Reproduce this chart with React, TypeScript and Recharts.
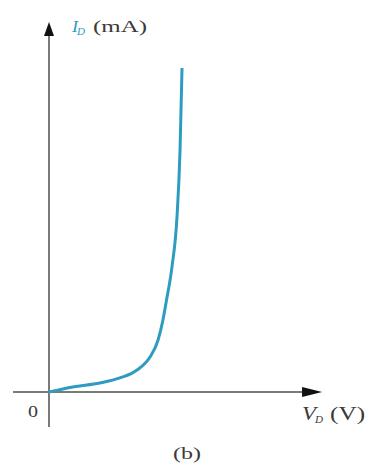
import React from 'react';
import { LineChart, Line, XAxis, YAxis, ReferenceLine, ReferenceDot } from 'recharts';

// diode forward characteristic, V_D in volts, I_D in mA
const voltage = [0, 0.133, 0.283, 0.394, 0.489, 0.561, 0.606, 0.633, 0.653, 0.683, 0.711, 0.728, 0.739];
const current = [0, 0.28, 0.5, 0.78, 1.22, 1.94, 2.89, 4.0, 5.11, 6.94, 9.72, 13.44, 18];

// axis extents (start, arrow tip)
const xAxisRange = [-0.2, 1.517];
const yAxisRange = [-1.95, 20.55];

const data = voltage.map((v, i) => ({ v, i: current[i] }));

const serif = '"Liberation Serif", "DejaVu Serif", serif';
const axisGray = '#7a7a7a';
const curveColor = '#2e9cc0';
const textColor = '#3a3a3a';

const ArrowUp = (p: any) => (
  <g>
    <polygon points={`${p.cx},${p.cy} ${p.cx - 5},${p.cy + 14} ${p.cx + 5},${p.cy + 14}`} fill="#111" />
    <text x={p.cx + 23} y={p.cy + 10} fontFamily={serif} fontSize={16} fontStyle="italic" fill={curveColor}
      textLength={6} lengthAdjust="spacingAndGlyphs">I</text>
    <text x={p.cx + 28} y={p.cy + 13} fontFamily={serif} fontSize={10} fontStyle="italic" fill={curveColor}
      textLength={8} lengthAdjust="spacingAndGlyphs">D</text>
    <text x={p.cx + 44} y={p.cy + 10} fontFamily={serif} fontSize={16} fill={textColor}
      textLength={54} lengthAdjust="spacingAndGlyphs">(mA)</text>
  </g>
);

const ArrowRight = (p: any) => (
  <g>
    <polygon points={`${p.cx},${p.cy} ${p.cx - 20},${p.cy - 5} ${p.cx - 20},${p.cy + 5}`} fill="#111" />
    <text x={p.cx - 20} y={p.cy + 28} fontFamily={serif} fontSize={18} fontStyle="italic" fill={textColor}
      textLength={14} lengthAdjust="spacingAndGlyphs">V</text>
    <text x={p.cx - 7} y={p.cy + 31} fontFamily={serif} fontSize={11} fontStyle="italic" fill={textColor}
      textLength={8} lengthAdjust="spacingAndGlyphs">D</text>
    <text x={p.cx + 8} y={p.cy + 28} fontFamily={serif} fontSize={18} fill={textColor}
      textLength={35} lengthAdjust="spacingAndGlyphs">(V)</text>
  </g>
);

const Origin = (p: any) => (
  <g>
    <text x={p.cx - 16} y={p.cy + 25} fontFamily={serif} fontSize={17} fill={textColor} textAnchor="middle"
      textLength={10} lengthAdjust="spacingAndGlyphs">0</text>
    <text x={p.cx + 138} y={p.cy + 67} fontFamily={serif} fontSize={16} fill={textColor} textAnchor="middle"
      textLength={28} lengthAdjust="spacingAndGlyphs">(b)</text>
  </g>
);

export default function App() {
  return (
    <div style={{ position: 'absolute', left: 0, top: 0, background: '#fff' }}>
      <LineChart width={369} height={473} data={data} margin={{ top: 14, right: 32, bottom: 45, left: 13 }}>
        <XAxis type="number" dataKey="v" domain={[-0.2, 1.6]} hide />
        <YAxis type="number" domain={[-2, 21]} hide />
        <ReferenceLine
          segment={[{ x: 0, y: yAxisRange[0] }, { x: 0, y: yAxisRange[1] - 0.5 }]}
          stroke={axisGray}
          strokeWidth={2}
          ifOverflow="visible"
        />
        <ReferenceLine
          segment={[{ x: xAxisRange[0], y: 0 }, { x: xAxisRange[1] - 0.08, y: 0 }]}
          stroke={axisGray}
          strokeWidth={2}
          ifOverflow="visible"
        />
        <Line
          type="monotone"
          dataKey="i"
          stroke={curveColor}
          strokeWidth={3}
          dot={false}
          isAnimationActive={false}
        />
        <ReferenceDot x={0} y={yAxisRange[1]} r={1} shape={ArrowUp} ifOverflow="visible" />
        <ReferenceDot x={xAxisRange[1]} y={0} r={1} shape={ArrowRight} ifOverflow="visible" />
        <ReferenceDot x={0} y={0} r={1} shape={Origin} ifOverflow="visible" />
      </LineChart>
    </div>
  );
}
